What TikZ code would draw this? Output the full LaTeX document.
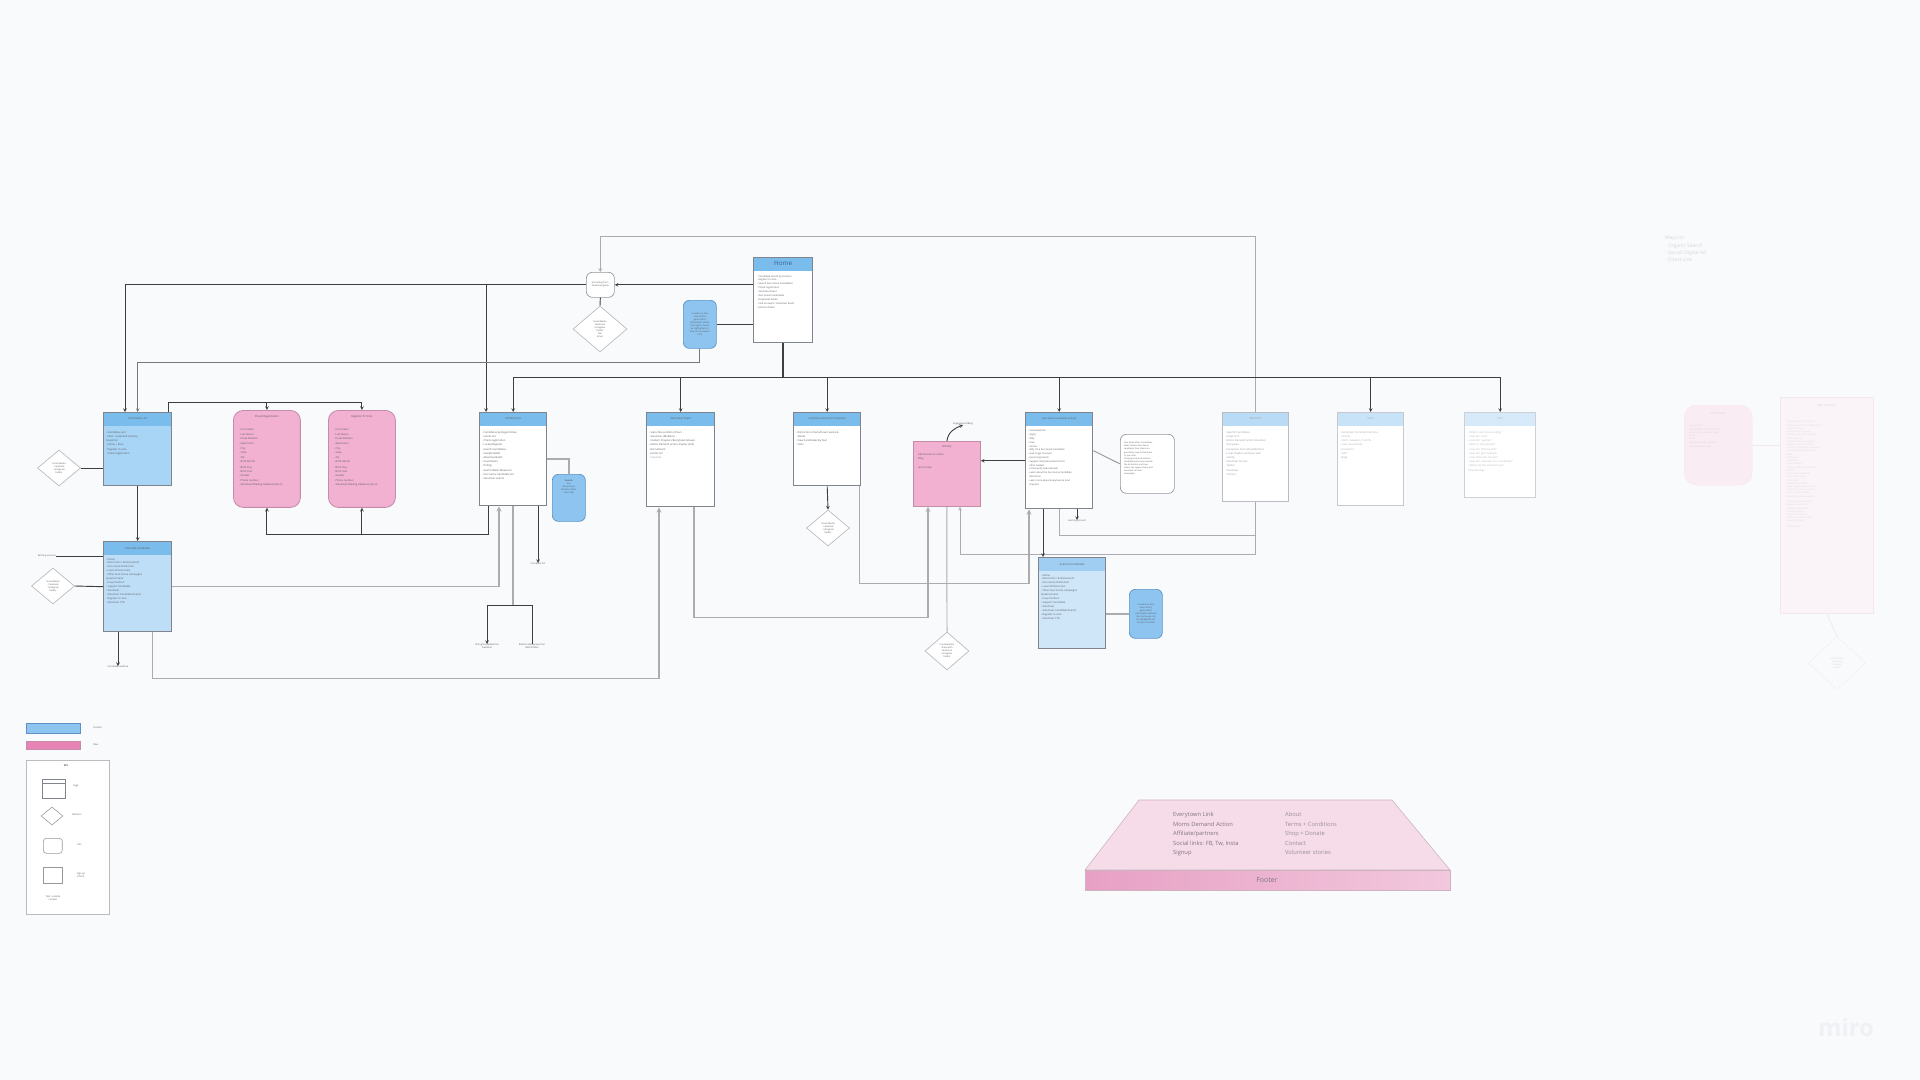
\documentclass[tikz,border=0pt]{standalone}
\usepackage{fontspec}
\setmainfont{Open Sans}
\usetikzlibrary{shapes.geometric}
\definecolor{bg}{RGB}{249,250,252}
\definecolor{hdrblue}{RGB}{122,188,235}
\definecolor{clbody}{RGB}{168,212,245}
\definecolor{scbody}{RGB}{190,222,248}
\definecolor{sctwobody}{RGB}{207,230,249}
\definecolor{sctwohdr}{RGB}{160,206,243}
\definecolor{abouthdr}{RGB}{186,219,246}
\definecolor{storehdr}{RGB}{200,226,247}
\definecolor{faqhdr}{RGB}{214,234,249}
\definecolor{pageedge}{RGB}{128,132,140}
\definecolor{paleedge}{RGB}{186,188,194}
\definecolor{pinkfill}{RGB}{243,177,209}
\definecolor{pinkedge}{RGB}{196,140,168}
\definecolor{keypinkfill}{RGB}{231,132,181}
\definecolor{notefill}{RGB}{142,197,240}
\definecolor{noteedge}{RGB}{92,146,196}
\definecolor{wirec}{RGB}{62,62,66}
\definecolor{pipec}{RGB}{172,172,176}
\definecolor{ink}{RGB}{92,92,98}
\definecolor{paleink}{RGB}{150,152,158}
\definecolor{homeink}{RGB}{52,98,146}
\definecolor{faintpink}{RGB}{250,236,243}
\definecolor{faintbig}{RGB}{250,243,247}
\definecolor{faintedge}{RGB}{242,232,237}
\definecolor{faintink}{RGB}{214,214,220}
\definecolor{foottop}{RGB}{246,219,232}
\definecolor{footedge}{RGB}{205,178,192}
\definecolor{footfrontl}{RGB}{231,160,196}
\definecolor{footfrontr}{RGB}{242,200,221}
\definecolor{footink}{RGB}{128,118,124}
\definecolor{mirogrey}{RGB}{240,241,244}
\begin{document}
\begin{tikzpicture}[x=0.05cm,y=-0.05cm,
  page/.style={draw=pageedge,line width=2pt,anchor=north west,inner sep=0pt,
    path picture={\fill[#1] (path picture bounding box.north west) rectangle ([yshift=-0.65cm]path picture bounding box.north east);}},
  pinkbox/.style={draw=pinkedge,line width=1.2pt,fill=pinkfill,anchor=north west,inner sep=0pt,rounded corners=0.5cm},
  bluenote/.style={draw=noteedge,line width=1pt,fill=notefill,anchor=north west,inner sep=0pt,rounded corners=0.3cm},
  whitenote/.style={draw=paleink,line width=1pt,fill=white,anchor=north west,inner sep=0pt,rounded corners=0.3cm},
  choice/.style={diamond,draw=paleedge,line width=1pt,fill=white,inner sep=0pt,align=center,text=ink,font=\fontsize{3.2}{4.2}\selectfont},
  ptitle/.style={inner sep=0pt,text=ink,font=\fontsize{4}{5}\selectfont},
  pbody/.style={anchor=north west,inner sep=0pt,align=left,text=ink,font=\fontsize{3.7}{5.6}\selectfont},
  notetext/.style={inner sep=0pt,align=center,text=ink,font=\fontsize{3.2}{4.3}\selectfont},
  smalllabel/.style={inner sep=0pt,align=center,text=ink,font=\fontsize{3.4}{4.3}\selectfont},
  wire/.style={draw=wirec,line width=1.3pt},
  pipe/.style={draw=pipec,line width=2.2pt},
  >=stealth]
\fill[bg] (0,0) rectangle (1920,1080);
\useasboundingbox (0,0) rectangle (1920,1080);
\coordinate (topbar) at (0,402);
\coordinate (lowbar) at (0,534);
\coordinate (bus) at (0,377);

\node[page=hdrblue,fill=white,minimum width=2.95cm,minimum height=4.25cm] (home) at (753,257) {};
\node[ptitle,text=homeink,font=\fontsize{9}{10}\selectfont] (homet) at ([yshift=-0.33cm]home.north) {Home};
\node[pbody,font=\fontsize{3.5}{5.6}\selectfont] (homeb) at ([xshift=0.2cm,yshift=-0.9cm]home.north west) {- Candidate search by location\\- Register to vote\\- Search Gun Sense Candidates\\- Check registration\\- Volunteer Event\\- Gun Sense Candidates\\- Download Guide\\- Find an event / Volunteer Event\\- Election Dates};

\node[bluenote,minimum width=1.65cm,minimum height=2.4cm] (hnote) at (683,300) {};
\node[notetext] (hnotet) at (hnote) {Located on Gun\\sense list by\\geolocation\\(Candidates within\\the region should\\be highlighted so\\they can be viewed\\first)};

\node[whitenote,minimum width=1.4cm,minimum height=1.25cm] (login) at (586,272) {};
\node[notetext] (logint) at (login) {Recruiting form\\Download guide};
\node[choice,minimum width=2.7cm,minimum height=2.3cm] (dthree) at (600,329) {Social Media\\Facebook\\Instagram\\Twitter\\Text\\Email};

\node[page=hdrblue,fill=clbody,minimum width=3.4cm,minimum height=3.65cm] (cl) at (103,412) {};
\node[ptitle] (clt) at ([yshift=-0.33cm]cl.north) {Candidate List};
\node[pbody] (clb) at ([xshift=0.15cm,yshift=-0.95cm]cl.north west) {- Candidate card\\- Filter: state/district/party\\[1pt]Snapshot:\\- Name + Race\\[1pt]- Register to vote\\- Check registration};

\node[page=hdrblue,fill=scbody,minimum width=3.4cm,minimum height=4.5cm] (sc) at (103,541) {};
\node[ptitle] (sct) at ([yshift=-0.35cm]sc.north) {Selected Candidate};
\node[pbody] (scb) at ([xshift=0.15cm,yshift=-0.85cm]sc.north west) {- Name\\- Distinction / Endorsement\\- Gun Sense Distinction\\- Level of Distinction\\- Other Gun Sense campaigns\\Questionnaire\\- Issue Position\\- Support Candidate\\- Volunteer\\- Volunteer Candidate Events\\- Register to vote\\- Volunteer CTA};

\node[choice,minimum width=2.15cm,minimum height=1.8cm] (done) at (59,468) {Social Media\\- Facebook\\- Instagram\\Twitter};
\node[choice,minimum width=2.15cm,minimum height=1.8cm] (dtwo) at (53,586) {Social Media\\- Facebook\\- Instagram\\Twitter};
\node[smalllabel,anchor=east] (lexist) at (56,556) {Existing account};
\node[smalllabel,anchor=north] (lcw) at (118,666) {Candidate website};

\node[pinkbox,minimum width=3.35cm,minimum height=4.85cm] (creg) at (233,410) {};
\node[ptitle] (cregt) at ([yshift=-0.32cm]creg.north) {Check Registration};
\node[pbody,font=\fontsize{3.7}{6}\selectfont] (cregb) at ([xshift=0.3cm,yshift=-0.9cm]creg.north west) {- First Name\\[1.5pt]- Last Name\\- Email Address\\[1.5pt]- Apartment\\- City\\- State\\[1.5pt]- Zip\\- Birth Month\\[1.5pt]- Birth Day\\- Birth Year\\- Gender\\[1.5pt]- Phone number\\- Volunteer/Mailing Updates (opt-in)};

\node[pinkbox,minimum width=3.35cm,minimum height=4.85cm] (rtv) at (328,410) {};
\node[ptitle] (rtvt) at ([yshift=-0.32cm]rtv.north) {Register To Vote};
\node[pbody,font=\fontsize{3.7}{6}\selectfont] (rtvb) at ([xshift=0.3cm,yshift=-0.9cm]rtv.north west) {- First Name\\[1.5pt]- Last Name\\- Email Address\\[1.5pt]- Apartment\\- City\\- State\\[1.5pt]- Zip\\- Birth Month\\[1.5pt]- Birth Day\\- Birth Year\\- Gender\\[1.5pt]- Phone number\\- Volunteer/Mailing Updates (opt-in)};

\node[page=hdrblue,fill=white,minimum width=3.35cm,minimum height=4.65cm] (ae) at (479,412) {};
\node[ptitle] (aet) at ([yshift=-0.33cm]ae.north) {All Elections};
\node[pbody] (aeb) at ([xshift=0.15cm,yshift=-0.95cm]ae.north west) {- Candidates by Region/State\\\ \ results list\\[1pt]- Check registration\\- Locate/Register\\[1pt]- Search Candidates\\- Sample Ballot\\- Absentee Ballot\\[1pt]- Countdown\\- Polling\\[1pt]- Search Ballot Measures\\- Gun Sense Candidate list\\- Volunteer events};
\node[bluenote,minimum width=1.65cm,minimum height=2.35cm] (aenote) at (552,474) {};
\node[notetext,anchor=north] (aenotet) at ([yshift=-0.3cm]aenote.north) {\textbf{Search}\\Zip\\Geolocation\\Election Dates\\Voter Reg};
\node[smalllabel,anchor=north] (lvg) at (487,644) {Voting Guide/Election\\Deadline};
\node[smalllabel,anchor=north] (leb) at (532,644) {Election Background on\\NRA Grades};
\node[smalllabel,anchor=north] (lcomp) at (538,563) {Complete list};

\node[page=hdrblue,fill=white,minimum width=3.4cm,minimum height=4.7cm] (ve) at (646,412) {};
\node[ptitle] (vet) at ([yshift=-0.33cm]ve.north) {Volunteer Event};
\node[pbody] (veb) at ([xshift=0.15cm,yshift=-0.95cm]ve.north west) {- Subscribe as Mom of Gun\\- Volunteer (Mobilize)\\[1pt]- Student Chapters/Everytown Groups\\- Moms Demand Action chapter (link)\\[1pt]- Recruitment\\- Events list\\\textcolor{paleink}{- Calendar}};

\node[page=hdrblue,fill=white,minimum width=3.35cm,minimum height=3.65cm] (cd) at (793,412) {};
\node[ptitle,font=\fontsize{3.6}{5}\selectfont] (cdt) at ([yshift=-0.33cm]cd.north) {Candidate Distinction Trajectory};
\node[pbody] (cdb) at ([xshift=0.15cm,yshift=-0.95cm]cd.north west) {- Distinction criteria/how it works \&\\\ \ details\\[1pt]- View Candidates by Year\\- Stats};
\node[choice,minimum width=2.15cm,minimum height=1.8cm] (dfour) at (828,528) {Social Media\\- Facebook\\- Instagram\\Twitter};

\node[pinkbox,rounded corners=0pt,minimum width=3.35cm,minimum height=3.25cm] (act) at (913,441) {};
\node[ptitle] (actt) at ([yshift=-0.3cm]act.north) {Activity};
\node[pbody] (actb) at ([xshift=0.25cm,yshift=-0.6cm]act.north west) {Alternatives to action\\Blog\\[8pt]Join to help};
\node[smalllabel,anchor=south] (lblog) at (963,425) {Engagement/Blog};
\node[choice,minimum width=2.2cm,minimum height=1.9cm] (dfive) at (947,651) {Consideration\\share with\\Facebook\\Instagram\\Twitter};

\node[page=hdrblue,fill=white,minimum width=3.35cm,minimum height=4.8cm] (gs) at (1025,412) {};
\node[ptitle,font=\fontsize{3.6}{5}\selectfont] (gst) at ([yshift=-0.33cm]gs.north) {Gun Sense Candidate Activity};
\node[pbody,font=\fontsize{3.4}{5.4}\selectfont] (gsb) at ([xshift=0.15cm,yshift=-0.9cm]gs.north west) {- Overview/Intro\\- Apply\\- Why\\- How\\- Stories\\- Why I'm a Gun Sense Candidate\\- How to get involved\\- Upcoming Events\\- Supports \& Endorsements from\\\ \ other leaders\\- Community endorsement\\- Learn about the Gun Sense Candidate\\\ \ distinction\\- Learn more about Everytown \& local\\\ \ chapters};
\node[smalllabel,anchor=north] (lexisttwo) at (1077,520) {Existing account};
\node[whitenote,minimum width=2.7cm,minimum height=2.95cm] (gsnote) at (1120,434) {};
\node[pbody,font=\fontsize{3}{4.4}\selectfont] (gsnotet) at ([xshift=0.2cm,yshift=-0.4cm]gsnote.north west) {Gun Sense Voter Candidates:\\what makes a Gun Sense\\candidate, their stance on\\gun safety, how to find them\\in your area.\\Showing local and national\\candidates who have earned\\the distinction, and how\\voters can support them and\\volunteer for their\\campaigns.};

\node[page=sctwohdr,fill=sctwobody,minimum width=3.35cm,minimum height=4.55cm] (sctwo) at (1038,557) {};
\node[ptitle] (sctwot) at ([yshift=-0.35cm]sctwo.north) {Selected Candidate};
\node[pbody] (sctwob) at ([xshift=0.15cm,yshift=-0.85cm]sctwo.north west) {- Name\\- Distinction / Endorsement\\- Gun Sense Distinction\\- Level of Distinction\\- Other Gun Sense campaigns\\Questionnaire\\- Issue Position\\- Support Candidate\\- Volunteer\\- Volunteer Candidate Events\\- Register to vote\\- Volunteer CTA};
\node[bluenote,minimum width=1.65cm,minimum height=2.45cm] (scnote) at (1129,589) {};
\node[notetext] (scnotet) at (scnote) {Located on Gun\\sense list by\\geolocation\\(Candidates without\\Gun sense yet can\\be highlighted but\\not yet recruited)};

\node[page=abouthdr,draw=paleedge,fill=white,minimum width=3.3cm,minimum height=4.45cm] (about) at (1222,412) {};
\node[ptitle,text=paleink] (aboutt) at ([yshift=-0.33cm]about.north) {About Us};
\node[pbody,text=paleink] (aboutb) at ([xshift=0.15cm,yshift=-0.95cm]about.north west) {- Specific Candidates\\\ \ (map) of in\\[1pt]- Moms Demand Action Volunteer\\\ \ Everytown\\[1pt]- Everytown Gun Safety/Mothers\\- Local chapter volunteer with\\\ \ activity\\[1pt]- Volunteer Stories\\\ \ Twitter\\[1pt]- Volunteer\\\ \ Contact};

\node[page=storehdr,draw=paleedge!80,fill=white,minimum width=3.3cm,minimum height=4.65cm] (store) at (1337,412) {};
\node[ptitle,text=paleink!80] (storet) at ([yshift=-0.33cm]store.north) {Store};
\node[pbody,text=paleink!80] (storeb) at ([xshift=0.15cm,yshift=-0.95cm]store.north west) {- Everytown Store/Merchandise\\\ \ Donate\\[1pt]- Shirts, Sweaters, T-shirts\\- Hats, Accessories\\[1pt]- Donations\\- Gifts\\- Bags};

\node[page=faqhdr,draw=paleedge!70,fill=white,minimum width=3.55cm,minimum height=4.25cm] (faq) at (1464,412) {};
\node[ptitle,text=paleink!70] (faqt) at ([yshift=-0.33cm]faq.north) {FAQ};
\node[pbody,text=paleink!70] (faqb) at ([xshift=0.2cm,yshift=-0.95cm]faq.north west) {- What is Gun Sense voting?\\[1pt]- How do I vote?\\- How do I register?\\- When is the election?\\[1pt]- How do I find my poll?\\- How do I get involved?\\[1pt]- How often do I donate?\\- How do I volunteer for a candidate?\\- Where do the donations go?\\[1pt]Volunteering?};

\draw[wire,->] ([xshift=-0.2cm]cl.north east) |- (rtv.north |- topbar) -- (rtv.north);
\draw[wire,->] (creg.north |- topbar) -- (creg.north);
\draw[wire,->] ([xshift=0.45cm]ae.south west) |- (creg.south |- lowbar) -- (creg.south);
\draw[wire,->] (rtv.south |- lowbar) -- (rtv.south);
\draw[pipe,->] (sc.east) -| ([xshift=1cm]ae.south west);
\draw[pipe,->] ([xshift=-1cm]sc.south east) -- ++(0,46) -| ([xshift=0.65cm]ve.south west);
\draw[wire,->] (lcw.north |- sc.south) -- (lcw.north);
\draw[wire,->] (cl.south) -- (sc.north);
\draw[wire] (done.east) -- (done.east -| cl.west);
\draw[wire] (dtwo.east) -- (sc.west);
\draw[wire] (lexist.east) -- (lexist.east -| sc.west);
\draw[wire,->] (login.west) -| ([xshift=1.1cm]cl.north west);
\draw[wire,->] ([xshift=0.35cm]ae.north west |- login.west) -- ([xshift=0.35cm]ae.north west);
\draw[wire,->] (home.west |- login.east) -- (login.east);
\draw[pipe,line width=1.4pt,->] (about.north) -- ++(0,-176) -| (login.north);
\draw[wire] (login.south) -- (dthree.north);
\draw[wire,draw=wirec!70,->] (hnote.south) -- ++(0,14) -| (cl.north);
\draw[wire] (hnote.east) -- (home.west |- hnote.east);
\draw[wire,line width=2.4pt] (home.south) -- (home.south |- bus);
\draw[wire] (ae.north |- bus) -- (faq.north |- bus);
\foreach \p in {ae,ve,cd,gs,store,faq}
  \draw[wire,->] (\p.north |- bus) -- (\p.north);
\draw[pipe] (ae.east) -| (aenote.north);
\draw[pipe] (ae.south) -- ++(0,99) coordinate (split);
\draw[wire,->] (split) -| (lvg.north);
\draw[wire] (split) -| (leb.north);
\draw[wire,->] (lcomp.north |- ae.south) -- (lcomp.north);
\draw[pipe,->] ([xshift=2.4cm]ve.south west) -- ++(0,110) -| ([xshift=0.75cm]act.south west);
\draw[pipe,->] ([xshift=-0.1cm]cd.south east) -- ++(0,97) -| ([xshift=0.2cm]gs.south west);
\draw[wire,->] (cd.south) -- (dfour.north);
\draw[pipe,line width=1.4pt] (act.south) -- (dfive.north);
\draw[pipe,line width=1.4pt,->] (about.south) -- ++(0,52) -| ([xshift=2.35cm]act.south west);
\draw[pipe,line width=1.4pt] (gs.south) -- ++(0,26) -| (about.south);
\draw[wire,->] ([xshift=0.9cm]gs.south west) -- ([xshift=0.9cm]gs.south west |- sctwo.north);
\draw[wire,->] (lexisttwo.north |- gs.south) -- (lexisttwo.north);
\draw[wire,->] (gs.west) -- (gs.west -| act.east);
\draw[wire,draw=paleink] ([yshift=0.5cm]gs.east) -- (gsnote.west);
\draw[pipe] (scnote.west -| sctwo.east) -- (scnote.west);
\draw[wire,->] (act.north) .. controls +(1,-9) and +(-8,3) .. (lblog.south);

\node[draw=faintedge,fill=faintpink,rounded corners=0.6cm,anchor=north west,inner sep=0pt,minimum width=3.4cm,minimum height=4cm] (fp) at (1684,405) {};
\node[ptitle,text=faintink] (fpt) at ([yshift=-0.4cm]fp.north) {Email Alerts};
\node[pbody,text=faintink,font=\fontsize{3.2}{4.6}\selectfont] (fpb) at ([xshift=0.25cm,yshift=-1cm]fp.north west) {Sign up form\\Get updates on elections and\\events, reminders and news\\by text\\Email\\Weekly reminder, deadlines\\[2pt]Subscribe with email};
\node[draw=faintedge,fill=faintbig,anchor=north west,inner sep=0pt,minimum width=4.65cm,minimum height=10.8cm] (fbig) at (1780,397) {};
\node[ptitle,text=faintink] (fbigt) at ([yshift=-0.45cm]fbig.north) {Sign-Up Form};
\node[pbody,text=faintink!80!faintbig,font=\fontsize{3.2}{4.6}\selectfont] (fbigb) at ([xshift=0.3cm,yshift=-1.2cm]fbig.north west) {- Stay updated on elections\\- Get reminders for deadlines and\\\ \ events near you\\- Text message sign up\\- Get reminders and updates\\- Email sign up\\- Receive volunteer updates\\- Weekly news and stories\\- Link to local chapter and events\\- Candidate updates by area\\Name\\- First name\\- Last name\\- Email address\\- Phone number and consent\\Address\\- Street and apartment\\- City, state and zip\\- Birth date\\- Volunteer interests\\- How did you hear about us\\- Preferred contact method\\- Text or email updates\\- Opt in for partner updates\\[3pt]- Privacy policy and terms\\- Data use agreement\\- Confirm and submit\\- Thank you page\\- Share with friends\\- Follow on social media\\- Download guide\\[3pt]Submit button};
\node[diamond,draw=faintedge,inner sep=0pt,minimum width=2.85cm,minimum height=2.65cm] (fd) at (1837,663) {};
\node[notetext,text=faintink] (fdt) at (fd) {Social Media\\Facebook\\Instagram\\Twitter};
\draw[draw=faintedge,line width=1pt] (fp.east) -- (fp.east -| fbig.west);
\draw[draw=faintedge,line width=1pt] (fbig.south) -- (fd.north);
\node[anchor=north west,inner sep=0pt,align=left,text=faintink,font=\fontsize{7}{10.5}\selectfont] (waysin) at (1665,236) {Ways In:\\- Organic Search\\- Social/ Digital Ad\\- Direct Link};
\node[inner sep=0pt,text=mirogrey,font=\bfseries\fontsize{34}{36}\selectfont] (miro) at (1846,1028) {miro};

\filldraw[draw=footedge,fill=foottop,line width=0.8pt] (1139,800) -- (1392,800) -- (1450,870) -- (1085,870) -- cycle;
\shade[left color=footfrontl,right color=footfrontr,draw=footedge,line width=0.8pt] (1085,870) rectangle (1450,890);
\node[inner sep=0pt,text=footink,font=\fontsize{10}{12}\selectfont] (footer) at (1267,880) {Footer};
\node[anchor=north west,inner sep=0pt,align=left,text=footink,font=\fontsize{8.2}{13.6}\selectfont] (footleft) at (1173,812) {Everytown Link\\Moms Demand Action\\Affiliate/partners\\Social links: FB, Tw, Insta\\Signup};
\node[anchor=north west,inner sep=0pt,align=left,text=footink!80,font=\fontsize{8.2}{13.6}\selectfont] (footright) at (1285,812) {About\\Terms + Conditions\\Shop + Donate\\Contact\\Volunteer stories};

\node[draw=noteedge,fill=notefill,line width=1pt,anchor=north west,inner sep=0pt,minimum width=2.7cm,minimum height=0.5cm] (keyblue) at (26,723) {};
\node[smalllabel,anchor=west] (keybluet) at (93,728) {Content};
\node[draw=pinkedge,fill=keypinkfill,line width=1pt,anchor=north west,inner sep=0pt,minimum width=2.7cm,minimum height=0.4cm] (keypink) at (26,741) {};
\node[smalllabel,anchor=west] (keypinkt) at (93,745) {Flow};
\node[draw=paleedge,fill=white,line width=2pt,anchor=north west,inner sep=0pt,minimum width=4.15cm,minimum height=7.7cm] (keybox) at (26,760) {};
\node[smalllabel,font=\bfseries\fontsize{3.4}{4}\selectfont] (keyt) at (66,766) {KEY};
\node[draw=pageedge,line width=1pt,anchor=north west,inner sep=0pt,minimum width=1.15cm,minimum height=0.95cm] (keypage) at (42,779) {};
\draw[draw=pageedge,line width=1pt] ([yshift=-0.22cm]keypage.north west) -- ([yshift=-0.22cm]keypage.north east);
\node[smalllabel,anchor=west] (keypaget) at (73,786) {Page};
\node[diamond,draw=paleink,line width=0.8pt,inner sep=0pt,minimum width=1.1cm,minimum height=0.9cm] (keydia) at (52,816) {};
\node[smalllabel,anchor=west] (keydiat) at (72,815) {Decision};
\node[draw=paleink,line width=0.8pt,rounded corners=0.15cm,anchor=north west,inner sep=0pt,minimum width=0.95cm,minimum height=0.75cm] (keyicon) at (43,838) {};
\node[smalllabel,anchor=west] (keyicont) at (77,845) {Icon};
\node[draw=paleink,line width=0.8pt,anchor=north west,inner sep=0pt,minimum width=0.95cm,minimum height=0.8cm] (keyform) at (43,867) {};
\node[smalllabel] (keyformt) at (81,875) {Sign up\\(form)};
\node[smalllabel] (keytext) at (53,898) {Text: outside\\content};
\end{tikzpicture}
\end{document}
